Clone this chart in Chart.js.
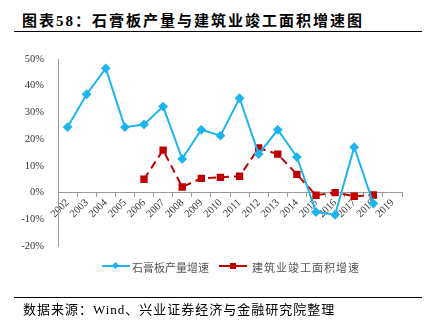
<!DOCTYPE html>
<html><head><meta charset="utf-8">
<script src="https://cdn.jsdelivr.net/npm/chart.js@4/dist/chart.umd.min.js"></script>
<style>
html,body{margin:0;padding:0;background:#fff;}
#wrap{position:relative;width:429px;height:328px;overflow:hidden;}
canvas{position:absolute;left:0;top:0;}
.t{position:absolute;white-space:nowrap;}
</style></head><body>
<div id="wrap">
<div class="t" style="left:22px;top:9px;font:bold 15px 'Liberation Serif','Noto Sans CJK SC';color:#000;letter-spacing:2px;">图表58：石膏板产量与建筑业竣工面积增速图</div>
<div style="position:absolute;left:14px;top:31px;width:408px;height:1px;background:#000;"></div>
<canvas id="c" width="429" height="328"></canvas>
<div style="position:absolute;left:102px;top:265px;width:28px;height:2px;background:#1EB4EE;"></div>
<div style="position:absolute;left:113px;top:263px;width:5px;height:5px;background:#1EB4EE;transform:rotate(45deg);"></div>
<div class="t" style="left:132px;top:259px;font:11px 'Noto Sans CJK SC';color:#555;">石膏板产量增速</div>
<div style="position:absolute;left:219px;top:265px;width:28px;height:2px;background:#C00000;"></div>
<div style="position:absolute;left:230px;top:263px;width:6px;height:6px;background:#C00000;"></div>
<div class="t" style="left:252px;top:259px;font:11px 'Noto Sans CJK SC';color:#555;letter-spacing:1px;">建筑业竣工面积增速</div>
<div style="position:absolute;left:14px;top:297px;width:408px;height:1px;background:#000;"></div>
<div class="t" style="left:23px;top:299px;font:13px 'Liberation Serif','Noto Sans CJK SC';color:#000;letter-spacing:1px;">数据来源：Wind、兴业证券经济与金融研究院整理</div>
</div>
<script>
const categories = ['2002','2003','2004','2005','2006','2007','2008','2009','2010','2011','2012','2013','2014','2015','2016','2017','2018','2019'];
const gypsumGrowth = [24.5,36.8,46.5,24.5,25.5,32.2,12.6,23.5,21.3,35.3,14.4,23.5,13.3,-7.3,-8.3,17.0,-4.1,null];
const constructionGrowth = [null,null,null,null,5.0,15.9,2.1,5.3,5.7,6.1,16.7,14.4,6.8,-1.0,0.0,-1.4,-0.9,null];
const yTicks = [-20,-10,0,10,20,30,40,50];

new Chart(document.getElementById('c'), {
  type: 'line',
  data: {
    labels: categories,
    datasets: [
      {label:'石膏板产量增速', data: gypsumGrowth, borderColor:'#1EB4EE', backgroundColor:'#1EB4EE',
       borderWidth:2, pointStyle:'rectRot', pointRadius:3.5, tension:0, spanGaps:false},
      {label:'建筑业竣工面积增速', data: constructionGrowth, borderColor:'#C00000', backgroundColor:'#C00000',
       borderWidth:2, borderDash:[8,5], pointStyle:'rect', pointRadius:3.8, tension:0}
    ]
  },
  options: {
    responsive:false, animation:false,
    layout:{padding:{left:0,right:27,top:59,bottom:82}},
    plugins:{legend:{display:false}, tooltip:{enabled:false}},
    scales:{
      x:{
        position:{y:0}, offset:true,
        grid:{display:true, drawOnChartArea:false, offset:true, tickLength:4, color:'#999'},
        border:{display:true, color:'#999', width:1},
        ticks:{color:'#333', font:{family:'Liberation Serif', size:10.5}, maxRotation:45, minRotation:45, padding:0, autoSkip:false}
      },
      y:{
        min:-20, max:50,
        afterBuildTicks: s => { s.ticks = yTicks.map(v => ({value:v})); },
        afterFit: s => { s.width = 58; },
        grid:{display:false},
        border:{display:true, color:'#999', width:1},
        ticks:{color:'#333', font:{family:'Liberation Serif', size:10.5}, padding:6, callback: v => v + '%'}
      }
    }
  }
});
</script>
</body></html>
